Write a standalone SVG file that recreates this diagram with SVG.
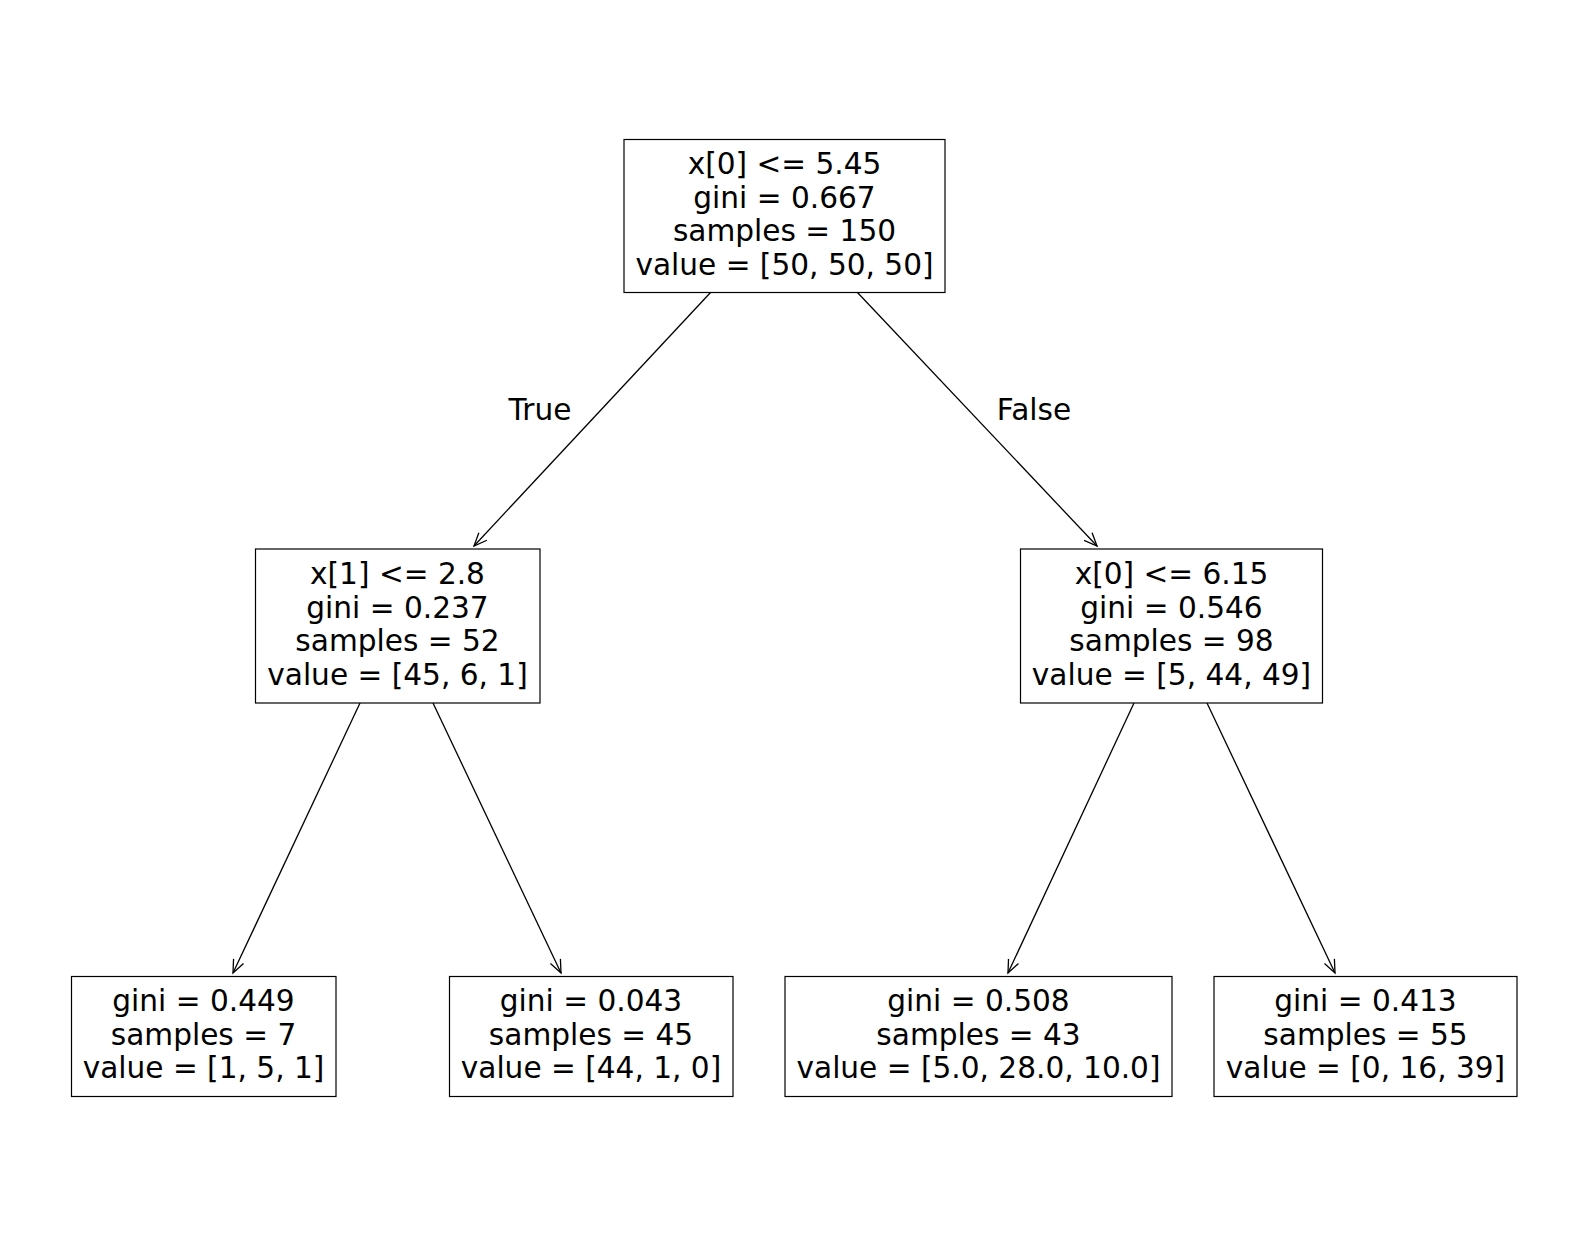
<svg xmlns="http://www.w3.org/2000/svg" width="1570" height="1252" viewBox="0 0 1570 1252">
<style>
.box{fill:#fff;stroke:#000;stroke-width:1.2}
.t{font-family:"DejaVu Sans",sans-serif;font-size:29.6px;fill:#000;text-anchor:middle}
.e{stroke:#000;stroke-width:1.3;fill:none;marker-end:url(#ah)}
</style>
<defs>
<marker id="ah" markerUnits="userSpaceOnUse" markerWidth="30" markerHeight="30" viewBox="-15 -15 30 30" refX="0" refY="0" orient="auto">
<path d="M-13,-5.5 L0,0 L-13,5.5" fill="none" stroke="#000" stroke-width="1.3"/>
</marker>
</defs>
<rect width="1570" height="1252" fill="#fff"/>
<g id="edges">
<line class="e" x1="711" y1="292" x2="474" y2="546"/>
<line class="e" x1="857" y1="292" x2="1097" y2="546"/>
<line class="e" x1="360" y1="703" x2="233" y2="973"/>
<line class="e" x1="433" y1="703" x2="561" y2="973"/>
<line class="e" x1="1134" y1="703" x2="1008" y2="973"/>
<line class="e" x1="1207" y1="703" x2="1335" y2="973"/>
<text class="t" x="540" y="420">True</text>
<text class="t" x="1034" y="420">False</text>
</g>
<g id="n0">
<rect class="box" x="624" y="139.5" width="321" height="153"/>
<text class="t" x="784.5" y="174">x[0] &lt;= 5.45</text>
<text class="t" x="784.5" y="207.5">gini = 0.667</text>
<text class="t" x="784.5" y="241">samples = 150</text>
<text class="t" x="784.5" y="274.5">value = [50, 50, 50]</text>
</g>
<g id="n1">
<rect class="box" x="255.5" y="549" width="284.5" height="154"/>
<text class="t" x="397.5" y="584">x[1] &lt;= 2.8</text>
<text class="t" x="397.5" y="617.5">gini = 0.237</text>
<text class="t" x="397.5" y="651">samples = 52</text>
<text class="t" x="397.5" y="684.5">value = [45, 6, 1]</text>
</g>
<g id="n4">
<rect class="box" x="1020.5" y="549" width="302" height="154"/>
<text class="t" x="1171.5" y="584">x[0] &lt;= 6.15</text>
<text class="t" x="1171.5" y="617.5">gini = 0.546</text>
<text class="t" x="1171.5" y="651">samples = 98</text>
<text class="t" x="1171.5" y="684.5">value = [5, 44, 49]</text>
</g>
<g id="n2">
<rect class="box" x="71.5" y="976.5" width="264.5" height="120"/>
<text class="t" x="203.5" y="1011">gini = 0.449</text>
<text class="t" x="203.5" y="1044.5">samples = 7</text>
<text class="t" x="203.5" y="1078">value = [1, 5, 1]</text>
</g>
<g id="n3">
<rect class="box" x="449.5" y="976.5" width="283.5" height="120"/>
<text class="t" x="591" y="1011">gini = 0.043</text>
<text class="t" x="591" y="1044.5">samples = 45</text>
<text class="t" x="591" y="1078">value = [44, 1, 0]</text>
</g>
<g id="n5">
<rect class="box" x="785" y="976.5" width="387" height="120"/>
<text class="t" x="978.5" y="1011">gini = 0.508</text>
<text class="t" x="978.5" y="1044.5">samples = 43</text>
<text class="t" x="978.5" y="1078">value = [5.0, 28.0, 10.0]</text>
</g>
<g id="n6">
<rect class="box" x="1214" y="976.5" width="303" height="120"/>
<text class="t" x="1365.5" y="1011">gini = 0.413</text>
<text class="t" x="1365.5" y="1044.5">samples = 55</text>
<text class="t" x="1365.5" y="1078">value = [0, 16, 39]</text>
</g>
</svg>
